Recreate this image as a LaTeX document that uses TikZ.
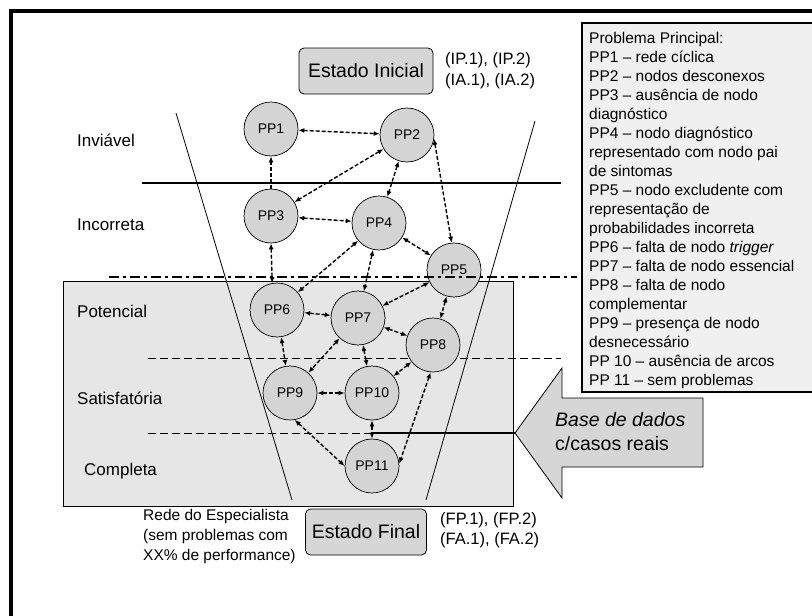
\documentclass[tikz,border=0pt]{standalone}
\usepackage{fontspec}
\setmainfont{Liberation Sans}
\usetikzlibrary{arrows.meta}
\definecolor{nodegray}{HTML}{D4D4D4}
\definecolor{boxgray}{HTML}{D6D6D6}
\definecolor{bandgray}{HTML}{E6E6E6}
\definecolor{legendgray}{HTML}{F0F0F0}
\newcommand{\setfs}[2]{\fontsize{#1}{#2}\selectfont}
\tikzset{
    pp/.style={circle, draw, line width=0.7pt, fill=nodegray, minimum size=54pt, inner sep=0pt, font=\setfs{14}{14}},
    link/.style={<->, >={Latex[length=6pt,width=5pt]}, line width=1.4pt, dash pattern=on 4pt off 2pt},
    estado/.style={draw, line width=0.8pt, rounded corners=5pt, fill=boxgray, minimum height=46pt, font=\setfs{19.5}{19.5}},
    level/.style={anchor=west, inner sep=0pt, font=\setfs{17}{17}},
    note/.style={anchor=west, align=left, inner sep=0pt, font=\setfs{15.5}{20}}
}
\begin{document}
\begin{tikzpicture}[x=1pt, y=-1pt]
    \useasboundingbox (0,0) rectangle (812,616);
    % frame
    \draw[line width=4pt] (11,616) -- (11,11) -- (812,11);
    % legend
    \fill[legendgray] (582,23) rectangle (812,392);
    \draw[line width=1.2pt] (812,23) -- (582,23) -- (582,392) -- (812,392);
    \node[anchor=north west, align=left, inner sep=0pt, font=\setfs{15.5}{19}] (legend) at (589,32) {%
        Problema Principal:\\
        PP1 -- rede cíclica\\
        PP2 -- nodos desconexos\\
        PP3 -- ausência de nodo\\
        diagnóstico\\
        PP4 -- nodo diagnóstico\\
        representado com nodo pai\\
        de sintomas\\
        PP5 -- nodo excludente com\\
        representação de\\
        probabilidades incorreta\\
        PP6 -- falta de nodo \emph{trigger}\\
        PP7 -- falta de nodo essencial\\
        PP8 -- falta de nodo\\
        complementar\\
        PP9 -- presença de nodo\\
        desnecessário\\
        PP 10 -- ausência de arcos\\
        PP 11 -- sem problemas};
    % band and funnel
    \draw[fill=bandgray, line width=1pt] (63,281) rectangle (513,506);
    \draw[line width=0.8pt] (176,113) -- (292,500);
    \draw[line width=0.8pt] (535,121) -- (426,500);
    \draw[line width=2.5pt] (142,183) -- (561,183);
    \draw[line width=0.8pt, dash pattern=on 8pt off 4pt] (148,358) -- (561,358);
    \draw[line width=0.8pt, dash pattern=on 8pt off 4pt] (148,433) -- (372,433);
    % level names
    \node[level] (inviavel) at (77,140) {Inviável};
    \node[level] (incorreta) at (77,225) {Incorreta};
    \node[level] (potencial) at (77,311) {Potencial};
    \node[level] (satisf) at (77,398) {Satisfatória};
    \node[level] (completa) at (84,471) {Completa};
    % states
    \node[estado, minimum width=134pt] (inicial) at (366,71) {Estado Inicial};
    \node[estado, minimum width=121pt] (final) at (366,532) {Estado Final};
    \node[note, font=\setfs{16.5}{21}] (ipa) at (445,71) {(IP.1), (IP.2)\\(IA.1), (IA.2)};
    \node[note, font=\setfs{16.5}{20}] (fpa) at (440,530) {(FP.1), (FP.2)\\(FA.1), (FA.2)};
    \node[note] (rede) at (143,536) {Rede do Especialista\\(sem problemas com\\XX\% de performance)};
    % problems
    \node[pp] (pp1) at (271,129) {PP1};
    \node[pp] (pp2) at (407,135) {PP2};
    \node[pp] (pp3) at (271,216) {PP3};
    \node[pp] (pp4) at (379,223) {PP4};
    \node[pp] (pp5) at (454,270) {PP5};
    \node[pp] (pp6) at (277,310) {PP6};
    \node[pp] (pp7) at (358,318) {PP7};
    \node[pp] (pp8) at (433,345) {PP8};
    \node[pp] (pp9) at (290,393) {PP9};
    \node[pp] (pp10) at (372,393) {PP10};
    \node[pp] (pp11) at (372,466) {PP11};
    \foreach \a/\b in {1/2, 2/3, 2/4, 3/4, 4/5, 4/6, 4/7, 5/7, 5/8, 6/7, 7/8, 6/9, 7/9, 7/10, 8/10, 9/10, 10/11}
        \draw[link] (pp\a) -- (pp\b);
    \draw[link, -{Latex[length=6pt,width=5pt]}] (pp3) -- (pp1);
    \draw[link] (pp2.-8) -- (pp5.95);
    \draw[link] (pp3.south) -- (pp6.100);
    \draw[link] (pp9.-80) -- (pp11.west);
    \draw[link] (pp8.-95) -- (pp11.5);
    \draw[line width=2.5pt, dash pattern=on 10pt off 4pt on 3pt off 4pt] (109,277) -- (577,277);
    % real cases
    \coordinate (tip) at (515,433);
    \draw[fill=boxgray, line width=0.8pt] (tip) -- (562,368) -- (562,398) -- (703,398)
        -- (703,467) -- (562,467) -- (562,498) -- cycle;
    \node[note, font=\setfs{19.5}{24}] (base) at (555,432) {\emph{Base de dados}\\c/casos reais};
    \coordinate (feed) at (pp10 |- tip);
    \draw[line width=2.5pt] (feed) -- (tip);
\end{tikzpicture}
\end{document}
